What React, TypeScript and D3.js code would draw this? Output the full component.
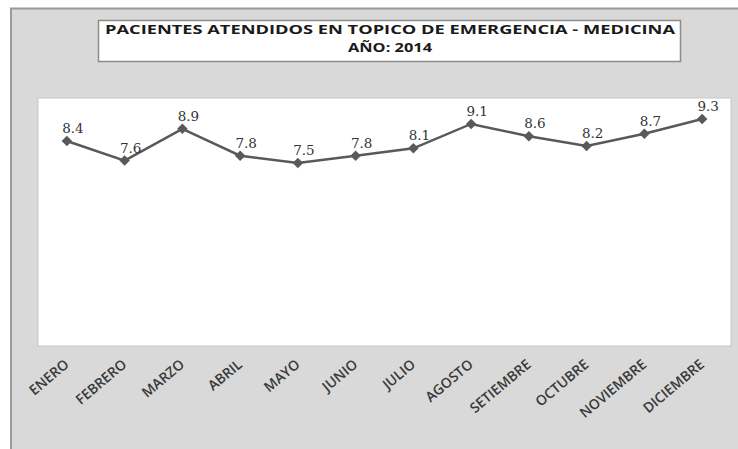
import React, { useEffect, useRef } from 'react';
import * as d3 from 'd3';

const months = [
  'ENERO', 'FEBRERO', 'MARZO', 'ABRIL', 'MAYO', 'JUNIO',
  'JULIO', 'AGOSTO', 'SETIEMBRE', 'OCTUBRE', 'NOVIEMBRE', 'DICIEMBRE',
];
const values = [8.4, 7.6, 8.9, 7.8, 7.5, 7.8, 8.1, 9.1, 8.6, 8.2, 8.7, 9.3];
const titleLines = ['PACIENTES ATENDIDOS EN TOPICO DE EMERGENCIA - MEDICINA', 'AÑO: 2014'];

const App: React.FC = () => {
  const ref = useRef<SVGSVGElement | null>(null);

  useEffect(() => {
    if (!ref.current) return;
    const svg = d3.select(ref.current);
    svg.selectAll('*').remove();

    const width = 738;
    const height = 449;
    const plot = { left: 38, right: 731, top: 98, bottom: 346 };

    // chart frame
    svg.append('rect').attr('width', width).attr('height', height).attr('fill', '#ffffff');
    svg
      .append('rect')
      .attr('x', 11)
      .attr('y', 8.5)
      .attr('width', width)
      .attr('height', height)
      .attr('fill', '#d9d9d9')
      .attr('stroke', '#9a9a9a')
      .attr('stroke-width', 2);

    // title box
    svg
      .append('rect')
      .attr('x', 98.5)
      .attr('y', 20.5)
      .attr('width', 582)
      .attr('height', 41)
      .attr('fill', '#ffffff')
      .attr('stroke', '#8c8c8c')
      .attr('stroke-width', 1.5);

    titleLines.forEach((t, i) => {
      const txt = svg
        .append('text')
        .attr('x', 390)
        .attr('y', 34 + i * 18)
        .attr('text-anchor', 'middle')
        .attr('font-family', 'Open Sans, sans-serif')
        .attr('font-weight', 'bold')
        .attr('font-size', 13)
        .attr('fill', '#1a1a1a')
        .text(t);
      if (i === 0) txt.attr('textLength', 570).attr('lengthAdjust', 'spacingAndGlyphs');
      else txt.attr('textLength', 84).attr('lengthAdjust', 'spacingAndGlyphs');
    });

    // plot area
    svg
      .append('rect')
      .attr('x', plot.left)
      .attr('y', plot.top)
      .attr('width', plot.right - plot.left)
      .attr('height', plot.bottom - plot.top)
      .attr('fill', '#ffffff')
      .attr('stroke', '#c8c8c8')
      .attr('stroke-width', 1);

    const x = d3.scalePoint<string>().domain(months).range([plot.left, plot.right]).padding(0.5);
    const y = d3.scaleLinear().domain([0, 10]).range([plot.bottom, plot.bottom - 244]);

    const data = months.map((m, i) => ({ m, v: values[i] }));

    const line = d3
      .line<{ m: string; v: number }>()
      .x((d) => x(d.m) as number)
      .y((d) => y(d.v));

    svg
      .append('path')
      .datum(data)
      .attr('d', line)
      .attr('fill', 'none')
      .attr('stroke', '#595959')
      .attr('stroke-width', 2.5);

    svg
      .selectAll('.marker')
      .data(data)
      .enter()
      .append('path')
      .attr('class', 'marker')
      .attr('d', d3.symbol().type(d3.symbolDiamond2).size(70))
      .attr('transform', (d) => `translate(${x(d.m)},${y(d.v)})`)
      .attr('fill', '#595959');

    // data labels
    svg
      .selectAll('.lbl')
      .data(data)
      .enter()
      .append('text')
      .attr('class', 'lbl')
      .attr('x', (d) => (x(d.m) as number) + 6)
      .attr('y', (d) => y(d.v) - 8)
      .attr('text-anchor', 'middle')
      .attr('font-family', 'DejaVu Serif, serif')
      .attr('font-size', 13.5)
      .attr('fill', '#333333')
      .text((d) => d.v.toFixed(1));

    // x axis labels
    svg
      .selectAll('.xl')
      .data(months)
      .enter()
      .append('text')
      .attr('class', 'xl')
      .attr('transform', (d) => `translate(${(x(d) as number) + 3},${366}) rotate(-40)`)
      .attr('text-anchor', 'end')
      .attr('font-family', 'Open Sans, sans-serif')
      .attr('font-weight', 600)
      .attr('font-size', 14)
      .attr('fill', '#3a3a3a')
      .text((d) => d);
  }, []);

  return (
    <svg
      ref={ref}
      width={738}
      height={449}
      style={{ position: 'absolute', left: 0, top: 0 }}
    ></svg>
  );
};

export default App;
